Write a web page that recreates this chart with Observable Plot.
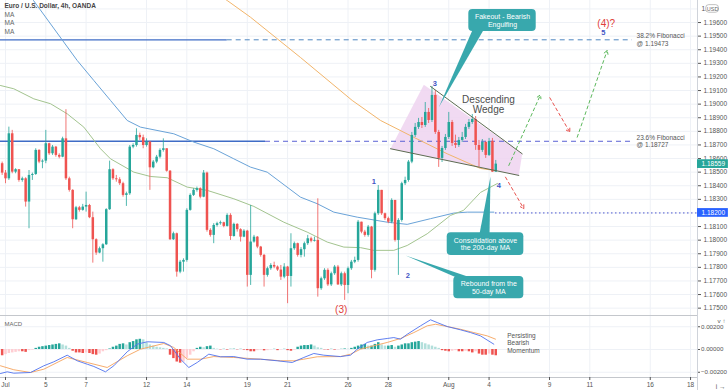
<!DOCTYPE html>
<html><head><meta charset="utf-8">
<script src="https://cdn.jsdelivr.net/npm/d3@7"></script>
<script src="https://cdn.jsdelivr.net/npm/@observablehq/plot@0.6"></script>
<style>
html,body{margin:0;padding:0;background:#fff;}
#chart svg{display:block;}
</style></head><body><div id="chart"></div>
<script>
// ---------- data ----------
const firstOpen = 1.18562;
const closes = [1.18493,1.18451,1.18782,1.18500,1.18518,1.18439,1.18451,1.18280,1.18476,1.18483,
1.18660,1.18574,1.18581,1.18709,1.18635,1.18684,1.18623,1.18610,1.18745,1.18451,
1.18366,1.18150,1.18238,1.18219,1.18243,1.18255,1.18165,1.18003,1.17905,1.17937,
1.17966,1.18224,1.18518,1.18451,1.18444,1.18415,1.18329,1.18341,1.18684,1.18696,
1.18770,1.18753,1.18696,1.18721,1.18532,1.18574,1.18610,1.18660,1.18672,1.18507,
1.18003,1.18047,1.17765,1.17838,1.17851,1.18219,1.18329,1.18366,1.18378,1.18316,
1.18493,1.18072,1.18035,1.18108,1.18121,1.18128,1.18101,1.18182,1.18027,1.18116,1.18077,
1.18022,1.18066,1.17741,1.17986,1.18022,1.17949,1.17888,1.17741,1.17790,1.17814,
1.17802,1.17780,1.17728,1.17802,1.17733,1.17937,1.17974,1.17888,1.17930,1.17974,1.18010,1.17992,1.17998,
1.17643,1.17716,1.17778,1.17671,1.17753,1.17802,1.17671,1.17753,1.17667,1.17790,
1.17838,1.17851,1.18132,1.18059,1.18035,1.18096,1.17778,1.18194,1.18366,1.18194,
1.18158,1.18132,1.18292,1.17998,1.18145,1.18415,1.18439,1.18574,1.18770,1.18829,
1.18865,1.18843,1.18939,1.18880,1.19064,1.18792,1.18601,1.18674,1.18755,1.18865,
1.18711,1.18696,1.18733,1.18755,1.18829,1.18865,1.18887,1.18696,1.18660,
1.18718,1.18623,1.18726,1.18500,1.18559];
const highs = [1.18574,1.18512,1.18831,1.18807,1.18525,1.18518,1.18463,1.18459,1.18512,1.18493,
1.18672,1.18665,1.18591,1.18807,1.18713,1.18696,1.18689,1.18635,1.18757,1.18959,
1.18463,1.18371,1.18248,1.18248,1.18263,1.18353,1.18263,1.18206,1.18010,1.17949,
1.17974,1.18231,1.18581,1.18525,1.18476,1.18459,1.18426,1.18353,1.18696,1.18709,
1.18819,1.18787,1.18772,1.18745,1.18726,1.18586,1.18623,1.18672,1.18745,1.18672,
1.18512,1.18059,1.18052,1.17851,1.17863,1.18231,1.18341,1.18378,1.18390,1.18385,
1.18512,1.18500,1.18084,1.18121,1.18132,1.18140,1.18132,1.18194,1.18194,1.18125,1.18121,
1.18084,1.18077,1.18072,1.18255,1.18035,1.18027,1.17954,1.17895,1.17802,1.17827,
1.17838,1.17810,1.17814,1.17827,1.17807,1.18047,1.17986,1.17978,1.17945,1.17986,1.18035,1.18022,1.18022,
1.18304,1.17728,1.17790,1.17790,1.17765,1.17814,1.17814,1.17765,1.17765,1.17802,
1.17851,1.17875,1.18145,1.18132,1.18072,1.18108,1.18101,1.18206,1.18402,1.18366,
1.18199,1.18169,1.18304,1.18292,1.18158,1.18426,1.18463,1.18586,1.18792,1.18858,
1.18895,1.18902,1.19012,1.18968,1.19130,1.19101,1.18807,1.18689,1.18777,1.18939,
1.18880,1.18772,1.18755,1.18792,1.18851,1.18887,1.18924,1.18909,1.18733,
1.18740,1.18726,1.18748,1.18748,1.18586];
const lows = [1.18476,1.18415,1.18439,1.18488,1.18488,1.18426,1.18426,1.18243,1.18084,1.18439,
1.18476,1.18562,1.18525,1.18562,1.18623,1.18623,1.18610,1.18598,1.18606,1.18439,
1.18353,1.18084,1.18145,1.18206,1.18213,1.18206,1.18158,1.17831,1.17888,1.17900,
1.17838,1.17961,1.18219,1.18439,1.18426,1.18402,1.18316,1.18248,1.18329,1.18672,
1.18684,1.18733,1.18672,1.18684,1.18366,1.18525,1.18562,1.18598,1.18647,1.18500,
1.17998,1.17998,1.17728,1.17753,1.17765,1.17838,1.18213,1.18321,1.18353,1.18304,
1.18312,1.18059,1.18022,1.17974,1.18096,1.18110,1.18091,1.18096,1.17998,1.18022,1.18059,
1.17986,1.18018,1.17655,1.17667,1.17978,1.17937,1.17875,1.17655,1.17728,1.17778,
1.17790,1.17770,1.17704,1.17716,1.17533,1.17655,1.17925,1.17875,1.17870,1.17875,1.17961,1.17980,1.17986,
1.17581,1.17631,1.17704,1.17659,1.17659,1.17741,1.17667,1.17659,1.17557,1.17606,
1.17778,1.17827,1.17838,1.18047,1.18022,1.18022,1.17716,1.17765,1.18182,1.18182,
1.18145,1.18121,1.18121,1.17986,1.17741,1.18132,1.18402,1.18426,1.18562,1.18755,
1.18814,1.18821,1.18829,1.18858,1.18865,1.18777,1.18535,1.18571,1.18660,1.18740,
1.18689,1.18674,1.18682,1.18718,1.18740,1.18814,1.18851,1.18660,1.18535,
1.18645,1.18601,1.18615,1.18498,1.18500];
const histogram = [-0.00055,-0.00045,-0.00035,-0.0003,-0.00025,-0.0002,-0.0002,-0.00025,-0.0001,-0.00005,
0.0001,0.0002,0.00025,0.0003,0.00035,0.0004,0.00045,0.0005,0.0004,0.0003,
0.0001,-0.00015,-0.0003,-0.0003,-0.00035,-0.0003,-0.00035,-0.00045,-0.0005,-0.0004,
-0.0002,-0.0001,0.00005,0.0002,0.0003,0.00045,0.0005,0.0004,0.0006,0.0007,
0.00085,0.0009,0.00085,0.0006,0.0004,0.0003,0.0002,0.00015,0.0001,0.00005,
-0.0005,-0.0008,-0.0011,-0.0012,-0.0011,-0.0008,-0.0005,-0.0002,0.0001,0.0002,
0.00015,0.00025,0.0003,0.0001,0.00003,-0.00003,0.00002,-0.00005,0.00002,0.00003,
-0.00003,0.00002,-0.00005,-0.0001,-0.0002,-0.0002,-0.0001,-0.00005,-0.00012,-0.0001,
-0.00003,0.00002,-0.0001,-0.00003,0.00002,-0.0001,-0.00015,-0.00005,0.0002,0.0003,
0.00035,0.00035,0.0004,0.0003,0.00015,0.0001,-0.00003,-0.00005,0.00002,-0.00005,
-0.00003,0.00002,0.00005,0.00003,0.0001,0.0002,0.0003,0.0004,0.00045,0.0003,
0.0003,0.00045,0.0006,0.0004,0.0003,0.0003,0.00035,0.0002,0.0003,0.0004,
0.0005,0.0005,0.0006,0.00065,0.0007,0.0006,0.0005,0.0004,0.0003,0.0002,
0.0001,-0.0001,-0.00015,-0.0002,-0.00015,-0.0001,-0.0002,-0.0002,-0.00015,-0.0002,
-0.0003,-0.0002,-0.0004,-0.0005,-0.0005,-0.0004,-0.0005,-0.00055];
// [bar index, value]
const macdLine = [[-0.49,-0.00211],[1.51,-0.00196],[3.47,-0.00208],[8.45,-0.00202],[12.41,-0.00143],[15.38,-0.00108],[19.37,-0.0005],[22.35,-0.00099],[25.33,-0.00129],[27.3,-0.00149],[30.78,-0.00196],[33.25,-0.00143],[37.24,-0.0002],[40.22,0.00047],[43.2,0.00068],[48.14,0.00062],[50.14,0.00033],[53.11,-0.00085],[55.59,-0.00158],[58.09,-0.00114],[61.54,-0.00041],[65.03,-0.00064],[68.99,-0.00062],[72.98,-0.00085],[76.94,-0.00085],[81.91,-0.00099],[86.38,-0.00114],[89.83,-0.0007],[92.81,-0.00035],[95.79,-0.0005],[100.76,-0.00062],[103.74,-0.0005],[105.74,0.00003],[108.71,0.00062],[111.69,0.00085],[114.67,0.00097],[116.64,0.00105],[118.63,0.00091],[120.63,0.00134],[124.59,0.00208],[127.57,0.00261],[129.56,0.00237],[132.54,0.00202],[136.5,0.00173],[139.48,0.00149],[142.45,0.0012],[146.42,0.00047]];
const signalLine = [[-0.49,-0.00143],[3.47,-0.00178],[8.45,-0.00202],[12.41,-0.00173],[19.37,-0.0007],[25.33,-0.00114],[31.29,-0.00158],[37.24,-0.00055],[41.2,0.00003],[48.14,0.00053],[51.12,0.00018],[55.11,-0.00085],[59.07,-0.00085],[63.03,-0.00062],[68.99,-0.0007],[76.94,-0.00085],[82.9,-0.00099],[86.85,-0.00099],[89.83,-0.00085],[93.83,-0.00064],[100.76,-0.00062],[103.74,-0.00041],[106.72,0.00003],[110.68,0.00033],[114.67,0.00062],[118.63,0.00097],[122.6,0.00149],[126.58,0.00208],[129.05,0.00222],[132.54,0.00202],[136.5,0.00178],[140.47,0.00149],[144.45,0.0012],[146.92,0.00091]];
const maBlue = [[6.96,1.19836],[9.34,1.19762],[22.35,1.19321],[27.3,1.19174],[32.27,1.19027],[37.24,1.18880],[41.2,1.18831],[51.12,1.18782],[57.07,1.18721],[63.03,1.18672],[68.99,1.18598],[73.96,1.18537],[78.93,1.18500],[88.85,1.18316],[93.83,1.18268],[98.77,1.18206],[105.74,1.18169],[114.67,1.18132],[120.63,1.18116],[127.57,1.18158],[134.5,1.18199],[138.5,1.18206],[146.42,1.18206]];
const maGreen = [[-0.49,1.19137],[3.47,1.19113],[9.43,1.19039],[14.4,1.19003],[19.37,1.18929],[24.32,1.18831],[29.29,1.18672],[32.27,1.18598],[39.21,1.18500],[44.18,1.18468],[49.15,1.18459],[55.11,1.18390],[61.07,1.18366],[69.0,1.18304],[74.95,1.18248],[83.88,1.18132],[90.85,1.18059],[96.8,1.17986],[101.75,1.17949],[106.72,1.17945],[110.68,1.17925],[116.64,1.17925],[120.63,1.17961],[126.58,1.18047],[133.52,1.18182],[137.4,1.18219],[142.45,1.18351],[147.51,1.18417]];
const maOrange = [[63.54,1.19821],[67.02,1.19762],[73.96,1.19639],[88.85,1.19343],[104.25,1.19027],[112.68,1.18880],[122.51,1.18757],[132.54,1.18635],[142.45,1.18527],[146.92,1.18512]];

const gridPrices = [1.175,1.176,1.177,1.178,1.179,1.180,1.181,1.182,1.183,1.184,1.185,1.186,1.187,1.188,1.189,1.190,1.191,1.192,1.193,1.194,1.195,1.196,1.197];
const priceLabels = [1.175,1.176,1.177,1.178,1.179,1.180,1.181,1.183,1.184,1.185,1.186,1.187,1.188,1.189,1.190,1.191,1.192,1.193,1.194,1.195,1.196];
const topPrice = 1.197;
const macdTicks = [-0.002, 0, 0.002];
const dateTickIndex = [1,13,25,43,55,73,85,103,115,133,145,163,175,193,205];
const dateTickLabels = ["Jul","5","7","12","14","19","21","26","28","Aug","4","9","11","16","18"];

const fib382 = 1.19473, fib236 = 1.18727, supportLevel = 1.182;
// annotation geometry [bar index, price]
const fibSolidEnd = [67.02, 78.43], fibDashEnd = 187.72, fibLabelX = 188.92, supportStart = 146.92;
const wedgePoly = [[115.65,1.18672],[125.57,1.19142],[154.87,1.18635],[153.86,1.18476]];
const wedgeUpper = [[127.57,1.19130],[154.87,1.18635]];
const wedgeLower = [[115.65,1.18672],[153.86,1.18476]];
const bullPaths = [[150.88,1.18549,160.32,1.19069],[171.25,1.18757,180.18,1.19395]];
const bearPaths = [[163.09,1.19047,169.05,1.18794],[149.9,1.18463,155.35,1.18231]];
const waveLabels = [[128.85,1.19152,"3"],[110.68,1.18432,"1"],[120.8,1.17741,"2"],[147.9,1.18402,"4"],[179.0,1.19525,"5"]];
const degreeLabels = [[100.97,1.17491,"(3)"],[179.89,1.19591,"(4)?"]];
const callouts = [
  {text:"Fakeout - Bearish\nEngulfing", x1:138.97, x2:159.04, y1:1.19534, y2:1.19696, ptr:[[140.07,1.19545],[130.04,1.18978],[143.35,1.19545]]},
  {text:"Consolidation above\nthe 200-day MA", x1:132.54, x2:155.35, y1:1.17888, y2:1.18055, ptr:[[142.15,1.18045],[145.43,1.18468],[145.13,1.18045]]},
  {text:"Rebound from the\n50-day MA", x1:134.5, x2:155.35, y1:1.17569, y2:1.17733, ptr:[[135.3,1.17725],[120.12,1.17888],[139.48,1.17725]]}
];
const wedgeTitle = [144.84, 1.18998, "Descending\nWedge"];
const momentumNote = [150.4, 0.0006, "Persisting\nBearish\nMomentum"];

// ---------- build ----------
const FONT = "'Liberation Sans', Arial, sans-serif";
const UP = "#26a69a", DOWN = "#ef5350";
const xDomain = [-0.49, 207.07];
const candles = closes.map((c, i) => ({i, open: i ? closes[i-1] : firstOpen, close: c, high: highs[i], low: lows[i]}));
candles.forEach(d => d.color = d.close >= d.open ? UP : DOWN);
const hist = histogram.map((v, i) => {
  const p = i ? histogram[i-1] : v;
  const color = v >= 0 ? (v >= p ? "#26a69a" : "#b2dfdb") : (v <= p ? "#ef5350" : "#ffcdd2");
  return {i, v, color};
});
const lastClose = closes[closes.length - 1];
const dateLabel = new Map(dateTickIndex.map((d, k) => [d, dateTickLabels[k]]));
const fmt5 = d3.format(".5f");
const xPad = 9.2;

const main = Plot.plot({
  width: 728, height: 315, marginTop: 0, marginBottom: 0, marginLeft: 0, marginRight: 31,
  x: {type: "linear", domain: xDomain, axis: null},
  y: {type: "linear", domain: [1.17446, 1.19762], axis: null},
  color: {type: "identity"},
  style: {fontFamily: FONT, color: "#4a4a4a", background: "#fff", overflow: "visible"},
  marks: [
    Plot.ruleY(gridPrices, {stroke: "#eef1f6"}),
    Plot.ruleX(dateTickIndex, {stroke: "#eef1f6"}),
    Plot.line(wedgePoly, {x: d => d[0], y: d => d[1], fill: "#eed4f0", fillOpacity: 0.85, stroke: "none"}),
    Plot.ruleY([fib382], {x1: xDomain[0], x2: fibSolidEnd[0], stroke: "#3f6cc6", strokeWidth: 1.3}),
    Plot.ruleY([fib382], {x1: fibSolidEnd[0], x2: fibDashEnd, stroke: "#4f86c0", strokeWidth: 1, strokeDasharray: "5,4"}),
    Plot.ruleY([fib236], {x1: xDomain[0], x2: fibSolidEnd[1], stroke: "#3f6cc6", strokeWidth: 1.3}),
    Plot.ruleY([fib236], {x1: fibSolidEnd[1], x2: fibDashEnd, stroke: "#5a62d4", strokeWidth: 1, strokeDasharray: "5,4"}),
    Plot.ruleY([supportLevel], {x1: supportStart, x2: xDomain[1], stroke: "#4b57d0", strokeWidth: 1, strokeDasharray: "1.5,2.5"}),
    Plot.line(maBlue, {x: d => d[0], y: d => d[1], stroke: "#6aa3d8", strokeWidth: 1, clip: true}),
    Plot.line(maGreen, {x: d => d[0], y: d => d[1], stroke: "#a3c48f", strokeWidth: 1, clip: true}),
    Plot.line(maOrange, {x: d => d[0], y: d => d[1], stroke: "#f2b56b", strokeWidth: 1, clip: true}),
    Plot.ruleX(candles, {x: "i", y1: "low", y2: "high", stroke: "color", strokeWidth: 0.8}),
    Plot.ruleX(candles, {x: "i", y1: "open", y2: "close", stroke: "color", strokeWidth: 2.5}),
    Plot.line(wedgeUpper, {x: d => d[0], y: d => d[1], stroke: "#5d6b52", strokeWidth: 1}),
    Plot.line(wedgeLower, {x: d => d[0], y: d => d[1], stroke: "#5d6b52", strokeWidth: 1}),
    Plot.arrow(bullPaths, {x1: d => d[0], y1: d => d[1], x2: d => d[2], y2: d => d[3], stroke: "#5cb85c", strokeWidth: 1, strokeDasharray: "3,3", headLength: 6}),
    Plot.arrow(bearPaths, {x1: d => d[0], y1: d => d[1], x2: d => d[2], y2: d => d[3], stroke: "#e8534f", strokeWidth: 1, strokeDasharray: "3,3", headLength: 6}),
    Plot.text([wedgeTitle], {x: d => d[0], y: d => d[1], text: d => d[2], fontSize: 10, fill: "#4d4d4d", lineHeight: 1.05}),
    ...callouts.map(c => Plot.line(c.ptr, {x: d => d[0], y: d => d[1], fill: "#38a8ad", stroke: "none"})),
    Plot.rect(callouts, {x1: "x1", x2: "x2", y1: "y1", y2: "y2", fill: "#38a8ad", rx: 4}),
    Plot.text(callouts, {x: d => (d.x1 + d.x2) / 2, y: d => (d.y1 + d.y2) / 2, text: "text", fill: "white", fontSize: 7, lineHeight: 1.1}),
    Plot.text(waveLabels, {x: d => d[0], y: d => d[1], text: d => d[2], fill: "#3f55c4", fontSize: 7.5, fontWeight: 600}),
    Plot.text(degreeLabels, {x: d => d[0], y: d => d[1], text: d => d[2], fill: "#e0403a", fontSize: 10}),
    Plot.text([["38.2% Fibonacci\n@ " + fmt5(fib382), fib382], ["23.6% Fibonacci\n@ " + fmt5(fib236), fib236]], {x: fibLabelX, y: d => d[1], text: d => d[0], textAnchor: "start", fontSize: 6.5, fill: "#555", lineHeight: 1.15}),
    Plot.text(["Euro / U.S. Dollar, 4h, OANDA"], {frameAnchor: "top-left", dx: 4, dy: 3, lineAnchor: "top", fontSize: 6.5, fontWeight: 700, fill: "#444"}),
    Plot.text(["MA\nMA\nMA"], {frameAnchor: "top-left", dx: 4, dy: 11, lineAnchor: "top", fontSize: 6.5, fill: "#666", lineHeight: 1.25}),
    Plot.ruleX([xDomain[1]], {stroke: "#cfd3da"}),
    Plot.axisY({anchor: "right", ticks: priceLabels, tickFormat: fmt5, tickSize: 3, tickPadding: 3, fontSize: 6.5, color: "#555"}),
    Plot.text([topPrice], {x: xDomain[1], y: d => d, text: () => "1.", dx: 4, textAnchor: "start", fontSize: 6.5, fill: "#555"}),
    Plot.rect([topPrice], {x1: xDomain[1] + 2.6, x2: xDomain[1] + 6.4, y1: d => d - 0.00028, y2: d => d + 0.00028, fill: "white", stroke: "#999", strokeWidth: 0.6, rx: 3}),
    Plot.text([topPrice], {x: xDomain[1] + 4.5, y: d => d, text: () => "USD", fontSize: 5.5, fill: "#666"}),
    Plot.rect([lastClose], {x1: xDomain[1], x2: xDomain[1] + xPad, y1: d => d - 0.00032, y2: d => d + 0.00032, fill: UP}),
    Plot.text([lastClose], {x: xDomain[1], y: d => d, text: fmt5, dx: 4, textAnchor: "start", fill: "white", fontSize: 6.5}),
    Plot.rect([supportLevel], {x1: xDomain[1], x2: xDomain[1] + xPad, y1: d => d - 0.00032, y2: d => d + 0.00032, fill: "#2962ff"}),
    Plot.text([supportLevel], {x: xDomain[1], y: d => d, text: fmt5, dx: 4, textAnchor: "start", fill: "white", fontSize: 6.5})
  ]
});

const macd = Plot.plot({
  width: 728, height: 76, marginTop: 0, marginBottom: 14, marginLeft: 0, marginRight: 31,
  x: {type: "linear", domain: xDomain, axis: null},
  y: {type: "linear", domain: [-0.00246, 0.00299], axis: null},
  color: {type: "identity"},
  style: {fontFamily: FONT, color: "#4a4a4a", background: "#fff", overflow: "visible"},
  marks: [
    Plot.ruleX(dateTickIndex, {stroke: "#eef1f6"}),
    Plot.ruleY(macdTicks, {stroke: "#eef1f6"}),
    Plot.ruleX(hist, {x: "i", y1: 0, y2: "v", stroke: "color", strokeWidth: 2.5}),
    Plot.line(signalLine, {x: d => d[0], y: d => d[1], stroke: "#f5a35c", strokeWidth: 0.9}),
    Plot.line(macdLine, {x: d => d[0], y: d => d[1], stroke: "#4f72ee", strokeWidth: 0.9}),
    Plot.text([momentumNote], {x: d => d[0], y: d => d[1], text: d => d[2], textAnchor: "start", fontSize: 6.5, fill: "#555", lineHeight: 1.15}),
    Plot.text(["MACD"], {frameAnchor: "top-left", dx: 4, dy: 6, lineAnchor: "top", fontSize: 6, fill: "#666"}),
    Plot.ruleY([0.00299], {stroke: "#c4c7cc"}),
    Plot.ruleY([-0.00246], {stroke: "#c4c7cc"}),
    Plot.ruleX([xDomain[1]], {y1: -0.0036, y2: 0.00299, stroke: "#cfd3da"}),
    Plot.axisY({anchor: "right", ticks: macdTicks, tickFormat: fmt5, tickSize: 2, tickPadding: 1.5, fontSize: 6.2, color: "#555"}),
    Plot.axisX({anchor: "bottom", ticks: dateTickIndex, tickFormat: d => dateLabel.get(d), tickSize: 3, tickPadding: 2, fontSize: 6.5, color: "#555"})
  ]
});

const root = document.getElementById("chart");
root.append(main, macd);
</script>
</body></html>
